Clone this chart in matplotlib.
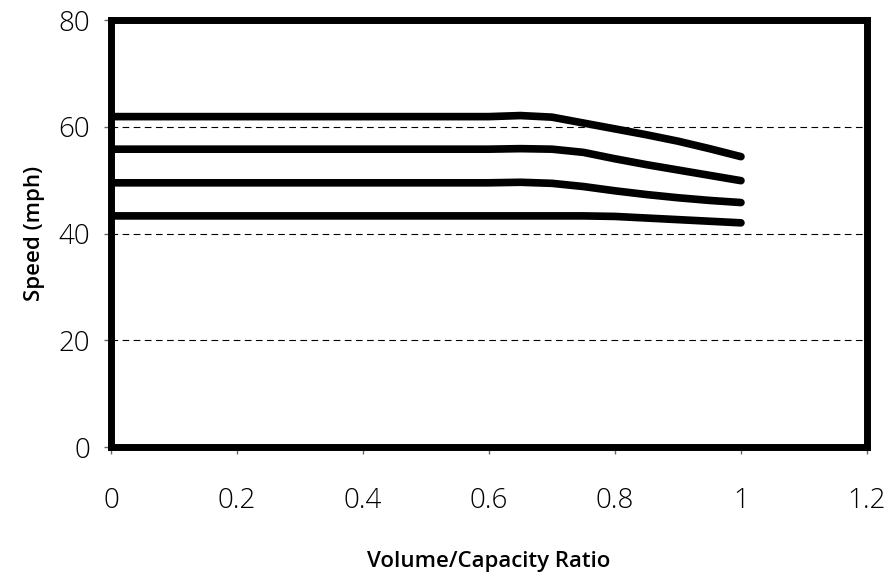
import matplotlib
matplotlib.use('Agg')
import matplotlib.pyplot as plt

plt.rcParams['font.family'] = ['Open Sans', 'DejaVu Sans']

vc = [0, 0.6, 0.65, 0.7, 0.75, 0.8, 0.85, 0.9, 0.95, 1.0]
speed_62 = [61.9, 61.9, 62.1, 61.8, 60.7, 59.6, 58.5, 57.3, 55.9, 54.4]
speed_56 = [55.8, 55.8, 55.9, 55.8, 55.2, 54.0, 52.9, 51.9, 50.9, 49.9]
speed_50 = [49.5, 49.5, 49.6, 49.4, 48.8, 48.0, 47.3, 46.7, 46.2, 45.8]
speed_43 = [43.3, 43.3, 43.3, 43.3, 43.3, 43.2, 42.9, 42.6, 42.3, 42.0]
curves = [speed_62, speed_56, speed_50, speed_43]

xticks = [0, 0.2, 0.4, 0.6, 0.8, 1.0, 1.2]
xtick_labels = ['0', '0.2', '0.4', '0.6', '0.8', '1', '1.2']
yticks = [0, 20, 40, 60, 80]

fig = plt.figure(figsize=(8.91, 5.80), dpi=100)
ax = fig.add_axes([0.1246, 0.2293, 0.973 - 0.1246, 0.9655 - 0.2293])

for yv in [20, 40, 60]:
    ax.axhline(yv, color='black', lw=0.8, ls=(0, (6, 4)), zorder=1)

for s in curves:
    ax.plot(vc, s, color='black', lw=5.5, solid_capstyle='round',
            solid_joinstyle='round', zorder=3)

ax.set_xlim(0, 1.2)
ax.set_ylim(0, 80)
ax.set_xticks(xticks)
ax.set_xticklabels(xtick_labels)
ax.set_yticks(yticks)

for sp in ax.spines.values():
    sp.set_linewidth(5)
    sp.set_color('black')
    sp.set_zorder(4)

ax.tick_params(axis='both', direction='out', length=5, width=1, color='#666666',
               labelsize=20)
ax.tick_params(axis='x', pad=24)
ax.tick_params(axis='y', pad=10)
for lab in ax.get_xticklabels() + ax.get_yticklabels():
    lab.set_fontweight('light')

ax.set_xlabel('Volume/Capacity Ratio', fontsize=16, fontweight='semibold', labelpad=26)
ax.set_ylabel('Speed (mph)', fontsize=16, fontweight='semibold', labelpad=10)

fig.savefig('out.png', dpi=100)
